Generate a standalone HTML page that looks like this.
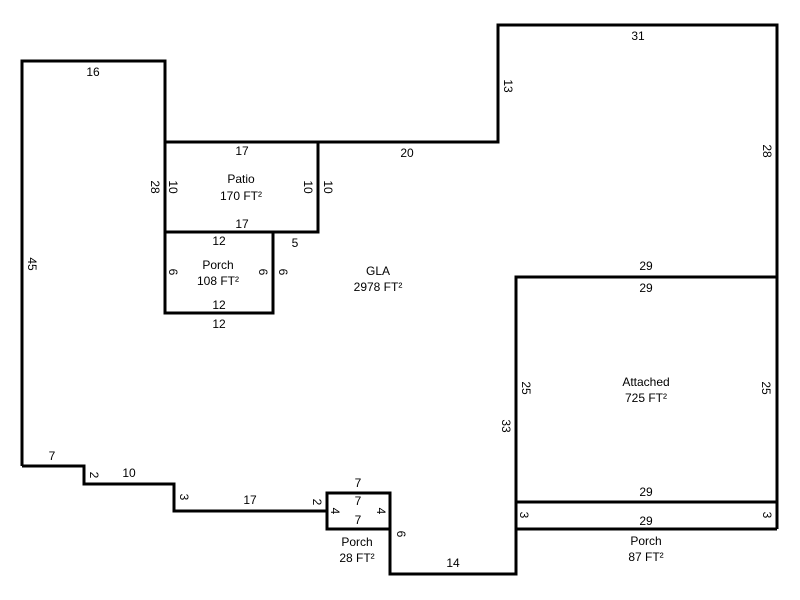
<!DOCTYPE html>
<html><head><meta charset="utf-8"><style>
html,body{margin:0;padding:0;background:#fff;}
svg{display:block}
text{font-family:"Liberation Sans",Arial,sans-serif;font-size:12px;fill:#000;text-anchor:middle;dominant-baseline:central}
</style></head><body>
<svg width="800" height="600" viewBox="0 0 800 600" xmlns="http://www.w3.org/2000/svg">
<g fill="none" stroke="#000" stroke-width="3" stroke-linejoin="miter">
<polyline points="22,466 22,61 165,61 165,142 498,142 498,25 777,25 777,529"/>
<polyline points="22,466 84,466 84,484 174,484 174,511 327,511"/>
<polyline points="390,529 390,574 516,574 516,277 777,277"/>
<rect x="165" y="142" width="153" height="90"/>
<rect x="165" y="232" width="108" height="81"/>
<rect x="327" y="493" width="63" height="36"/>
<line x1="516" y1="502" x2="777" y2="502"/>
<polyline points="516,502 516,529 777,529"/>
</g>
<text x="93" y="72">16</text>
<text x="638" y="36">31</text>
<text x="242" y="151">17</text>
<text x="407" y="153">20</text>
<text x="242" y="224">17</text>
<text x="219" y="241">12</text>
<text x="295" y="243">5</text>
<text x="219" y="305">12</text>
<text x="219" y="324">12</text>
<text x="646" y="266">29</text>
<text x="646" y="288">29</text>
<text x="646" y="492">29</text>
<text x="646" y="521">29</text>
<text x="52" y="456">7</text>
<text x="129" y="473">10</text>
<text x="250" y="500">17</text>
<text x="358" y="483">7</text>
<text x="358" y="501">7</text>
<text x="358" y="520">7</text>
<text x="453" y="563">14</text>
<text x="241" y="179">Patio</text>
<text x="241" y="196">170 FT²</text>
<text x="218" y="265">Porch</text>
<text x="218" y="281">108 FT²</text>
<text x="378" y="271">GLA</text>
<text x="378" y="287">2978 FT²</text>
<text x="646" y="382">Attached</text>
<text x="646" y="398">725 FT²</text>
<text x="357" y="542">Porch</text>
<text x="357" y="558">28 FT²</text>
<text x="646" y="541">Porch</text>
<text x="646" y="557">87 FT²</text>
<g>
<text transform="translate(508,86) rotate(90)">13</text>
<text transform="translate(767,151) rotate(90)">28</text>
<text transform="translate(155,187) rotate(90)">28</text>
<text transform="translate(173,187) rotate(90)">10</text>
<text transform="translate(308,187) rotate(90)">10</text>
<text transform="translate(328,187) rotate(90)">10</text>
<text transform="translate(32,264) rotate(90)">45</text>
<text transform="translate(173,272) rotate(90)">6</text>
<text transform="translate(263,272) rotate(90)">6</text>
<text transform="translate(283,272) rotate(90)">6</text>
<text transform="translate(526,388) rotate(90)">25</text>
<text transform="translate(766,388) rotate(90)">25</text>
<text transform="translate(506,426) rotate(90)">33</text>
<text transform="translate(94,475) rotate(90)">2</text>
<text transform="translate(184,497) rotate(90)">3</text>
<text transform="translate(317,502) rotate(90)">2</text>
<text transform="translate(335,511) rotate(90)">4</text>
<text transform="translate(381,511) rotate(90)">4</text>
<text transform="translate(401,534) rotate(90)">6</text>
<text transform="translate(524,515) rotate(90)">3</text>
<text transform="translate(767,515) rotate(90)">3</text>
</g>
</svg>
</body></html>
